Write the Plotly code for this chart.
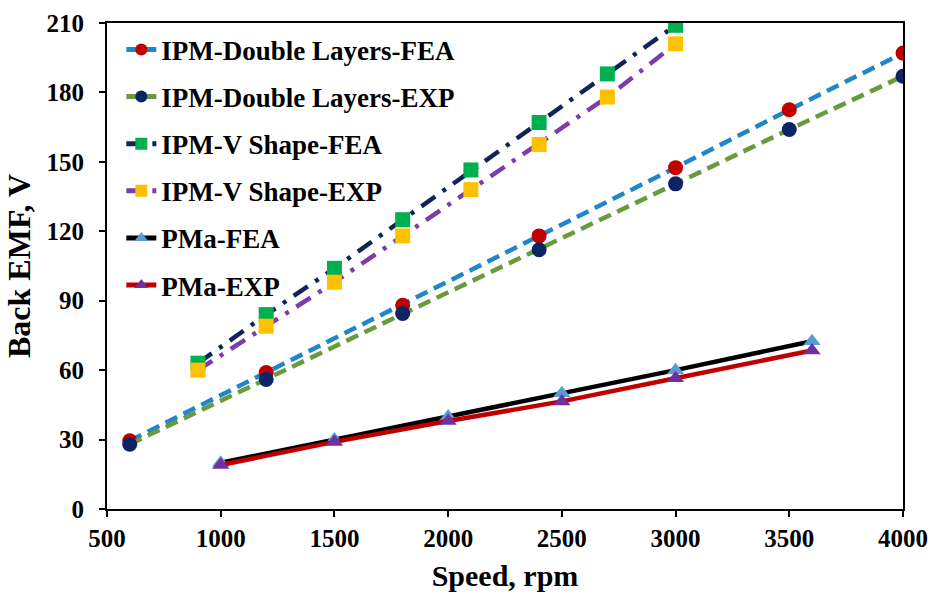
import plotly.graph_objects as go

# Speeds (rpm) for each machine design
speed_dl = [600, 1200, 1800, 2400, 3000, 3500, 4000]
speed_vs = [900, 1200, 1500, 1800, 2100, 2400, 2700, 3000]
speed_pma = [1000, 1500, 2000, 2500, 3000, 3600]

# Back EMF (V)
dl_fea = [29.5, 59, 88, 118, 147.5, 172.5, 197]
dl_exp = [28, 56, 84.5, 112, 140.5, 164, 187]
vs_fea = [63, 84, 104, 125, 146.5, 167, 188, 209]
vs_exp = [60, 79, 98, 118, 138, 157.5, 178, 201]
pma_fea = [20, 30, 40, 50, 60, 72.5]
pma_exp = [19, 29, 38, 46.5, 56.5, 68.5]

x_ticks = [500, 1000, 1500, 2000, 2500, 3000, 3500, 4000]
y_ticks = [0, 30, 60, 90, 120, 150, 180, 210]

FONT = "Liberation Serif"

series = [
    ("IPM-Double Layers-FEA", speed_dl, dl_fea, "#1F86C8", "13px,7px", "circle", "#C00000"),
    ("IPM-Double Layers-EXP", speed_dl, dl_exp, "#6A9A3C", "13px,7px", "circle", "#0B2463"),
    ("IPM-V Shape-FEA", speed_vs, vs_fea, "#0F2557", "17px,9px,4px,9px", "square", "#00B050"),
    ("IPM-V Shape-EXP", speed_vs, vs_exp, "#7A3DAA", "17px,9px,4px,9px", "square", "#FFC000"),
    ("PMa-FEA", speed_pma, pma_fea, "#000000", "solid", "triangle-up", "#5B9BD5"),
    ("PMa-EXP", speed_pma, pma_exp, "#C00000", "solid", "triangle-up", "#7030A0"),
]

fig = go.Figure()
for i, (name, xs, ys, lc, dash, sym, mc) in enumerate(series):
    fig.add_trace(go.Scatter(
        x=xs, y=ys, name=name, mode="lines+markers",
        legendgroup=f"g{i}",
        line=dict(color=lc, width=4.5, dash=dash),
        marker=dict(symbol=sym, color=mc, size=15, line=dict(width=0)),
    ))

axis_common = dict(
    showgrid=False, zeroline=False, automargin=False,
    showline=True, linecolor="black", linewidth=2, mirror=True,
    ticks="outside", ticklen=6, tickwidth=2, tickcolor="black",
    tickfont=dict(family=FONT, size=25, color="black", weight="bold"),
)

fig.update_layout(
    width=934, height=600,
    margin=dict(l=107, r=31, t=23, b=91),
    paper_bgcolor="white", plot_bgcolor="white",
    showlegend=True,
    legend=dict(
        x=0.018, y=0.995, xanchor="left", yanchor="top",
        bgcolor="rgba(255,255,255,0)",
        font=dict(family=FONT, size=27, color="black", weight="bold"),
        tracegroupgap=9,
        itemsizing="constant",
    ),
    xaxis=dict(
        range=[500, 4000], tickvals=x_ticks,
        title=dict(text="Speed, rpm", standoff=14,
                   font=dict(family=FONT, size=30, color="black", weight="bold")),
        **axis_common,
    ),
    yaxis=dict(
        range=[0, 210], tickvals=y_ticks, ticklabelstandoff=10,
        title=dict(text="Back EMF, V", standoff=6,
                   font=dict(family=FONT, size=32, color="black", weight="bold")),
        **axis_common,
    ),
)

fig.write_html("out.html")
